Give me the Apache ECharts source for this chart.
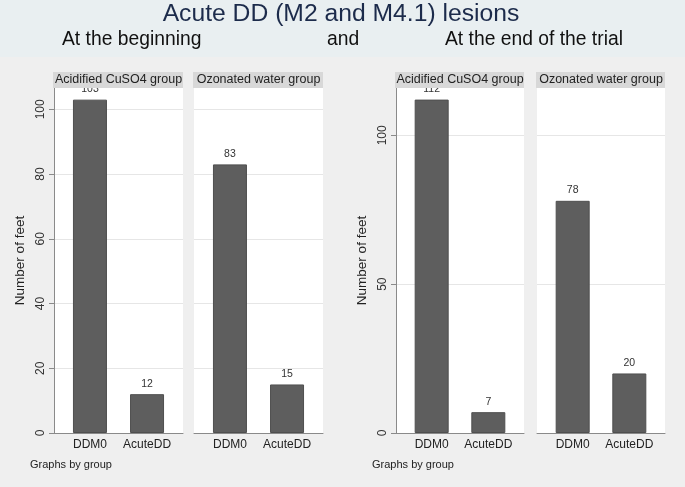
<!DOCTYPE html>
<html><head><meta charset="utf-8">
<script src="https://cdn.jsdelivr.net/npm/echarts@6/dist/echarts.min.js"></script>
<style>html,body{margin:0;padding:0;background:#efefef}#c{width:685px;height:487px}</style>
</head><body><div id="c"></div>
<script>
// ---- data ----
const categories = ['DDM0', 'AcuteDD'];
const groups = ['Acidified CuSO4 group', 'Ozonated water group'];
const beginCuSO4 = [103, 12];
const beginOzone = [83, 15];
const endCuSO4 = [112, 7];
const endOzone = [78, 20];
const beginTicks = [0, 20, 40, 60, 80, 100];
const endTicks = [0, 50, 100];
const mainTitle = 'Acute DD (M2 and M4.1) lesions';
const yTitle = 'Number of feet';
const note = 'Graphs by group';

// ---- layout ----
const FONT = '"Liberation Sans", Arial, sans-serif';
const panels = [
  { left: 54,  width: 129, values: beginCuSO4, group: groups[0], ticks: beginTicks, yMax: 106.6, first: true },
  { left: 194, width: 129, values: beginOzone, group: groups[1], ticks: beginTicks, yMax: 106.6, first: false },
  { left: 396, width: 128, values: endCuSO4,   group: groups[0], ticks: endTicks,   yMax: 115.9, first: true },
  { left: 537, width: 128, values: endOzone,   group: groups[1], ticks: endTicks,   yMax: 115.9, first: false }
];
const TOP = 88, HEIGHT = 345;

const grid = [], xAxis = [], yAxis = [], series = [], graphic = [];

graphic.push({ type: 'rect', left: 0, top: 0, z: -10, shape: { width: 685, height: 57 }, style: { fill: '#e9eff1' } });

panels.forEach((p, i) => {
  grid.push({ left: p.left, top: TOP, width: p.width, height: HEIGHT, backgroundColor: '#ffffff', show: true, borderWidth: 0 });
  xAxis.push({
    type: 'value', gridIndex: i, min: -0.63, max: 1.63,
    splitLine: { show: false },
    axisTick: { show: false },
    axisLine: { show: true, onZero: false, lineStyle: { color: '#8a8a8a', width: 1 } },
    axisLabel: {
      customValues: categories.map((c, k) => k),
      formatter: v => categories[Math.round(v)],
      color: '#222', fontSize: 12, fontFamily: FONT, margin: 6
    }
  });
  yAxis.push({
    type: 'value', gridIndex: i, min: 0, max: p.yMax,
    axisLine: { show: p.first, onZero: false, lineStyle: { color: '#8a8a8a' } },
    axisTick: { show: p.first, customValues: p.ticks, length: 5, lineStyle: { color: '#8a8a8a' } },
    axisLabel: { show: p.first, customValues: p.ticks, rotate: 90, color: '#333', fontSize: 12, fontFamily: FONT, margin: 7 },
    splitLine: { show: true, lineStyle: { color: '#e6e6e6', width: 1 } },
    name: p.first ? yTitle : '',
    nameLocation: 'middle', nameRotate: 90, nameGap: 27,
    nameTextStyle: { fontSize: 13.5, color: '#222', fontFamily: FONT }
  });
  series.push({
    type: 'bar', xAxisIndex: i, yAxisIndex: i, barWidth: 34,
    data: p.values.map((v, k) => [k, v]),
    itemStyle: { color: '#5e5e5e', borderColor: '#4f4f4f', borderWidth: 1 },
    label: { show: true, position: 'top', distance: 5, fontSize: 10.5, color: '#333', fontFamily: FONT }
  });
  graphic.push({
    type: 'rect', left: p.left - 1, top: 72, z: 100,
    shape: { width: p.width + 1, height: 16 },
    style: { fill: '#d8d8d8' }
  });
  graphic.push({
    type: 'text', x: p.left + p.width / 2, y: 80, z: 101,
    style: { text: p.group, fill: '#222', fontSize: 12.5, fontFamily: FONT, textAlign: 'center', textVerticalAlign: 'middle' }
  });
});

graphic.push(
  { type: 'text', x: 341, y: 14, z: 101, style: { text: mainTitle, fill: '#1c2b4b', fontSize: 24.7, fontFamily: FONT, textAlign: 'center', textVerticalAlign: 'middle' } },
  { type: 'text', x: 62, y: 40, z: 101, style: { text: 'At the beginning', fill: '#111', fontSize: 19.3, fontFamily: FONT, textAlign: 'left', textVerticalAlign: 'middle' } },
  { type: 'text', x: 327, y: 40, z: 101, style: { text: 'and', fill: '#111', fontSize: 19.3, fontFamily: FONT, textAlign: 'left', textVerticalAlign: 'middle' } },
  { type: 'text', x: 445, y: 40, z: 101, style: { text: 'At the end of the trial', fill: '#111', fontSize: 19.3, fontFamily: FONT, textAlign: 'left', textVerticalAlign: 'middle' } },
  { type: 'text', x: 30, y: 465, z: 101, style: { text: note, fill: '#222', fontSize: 11, fontFamily: FONT, textAlign: 'left', textVerticalAlign: 'middle' } },
  { type: 'text', x: 372, y: 465, z: 101, style: { text: note, fill: '#222', fontSize: 11, fontFamily: FONT, textAlign: 'left', textVerticalAlign: 'middle' } }
);

const chart = echarts.init(document.getElementById('c'), null, { renderer: 'canvas' });
chart.setOption({
  backgroundColor: '#efefef',
  animation: false,
  grid, xAxis, yAxis, series, graphic
});
</script>
</body></html>
